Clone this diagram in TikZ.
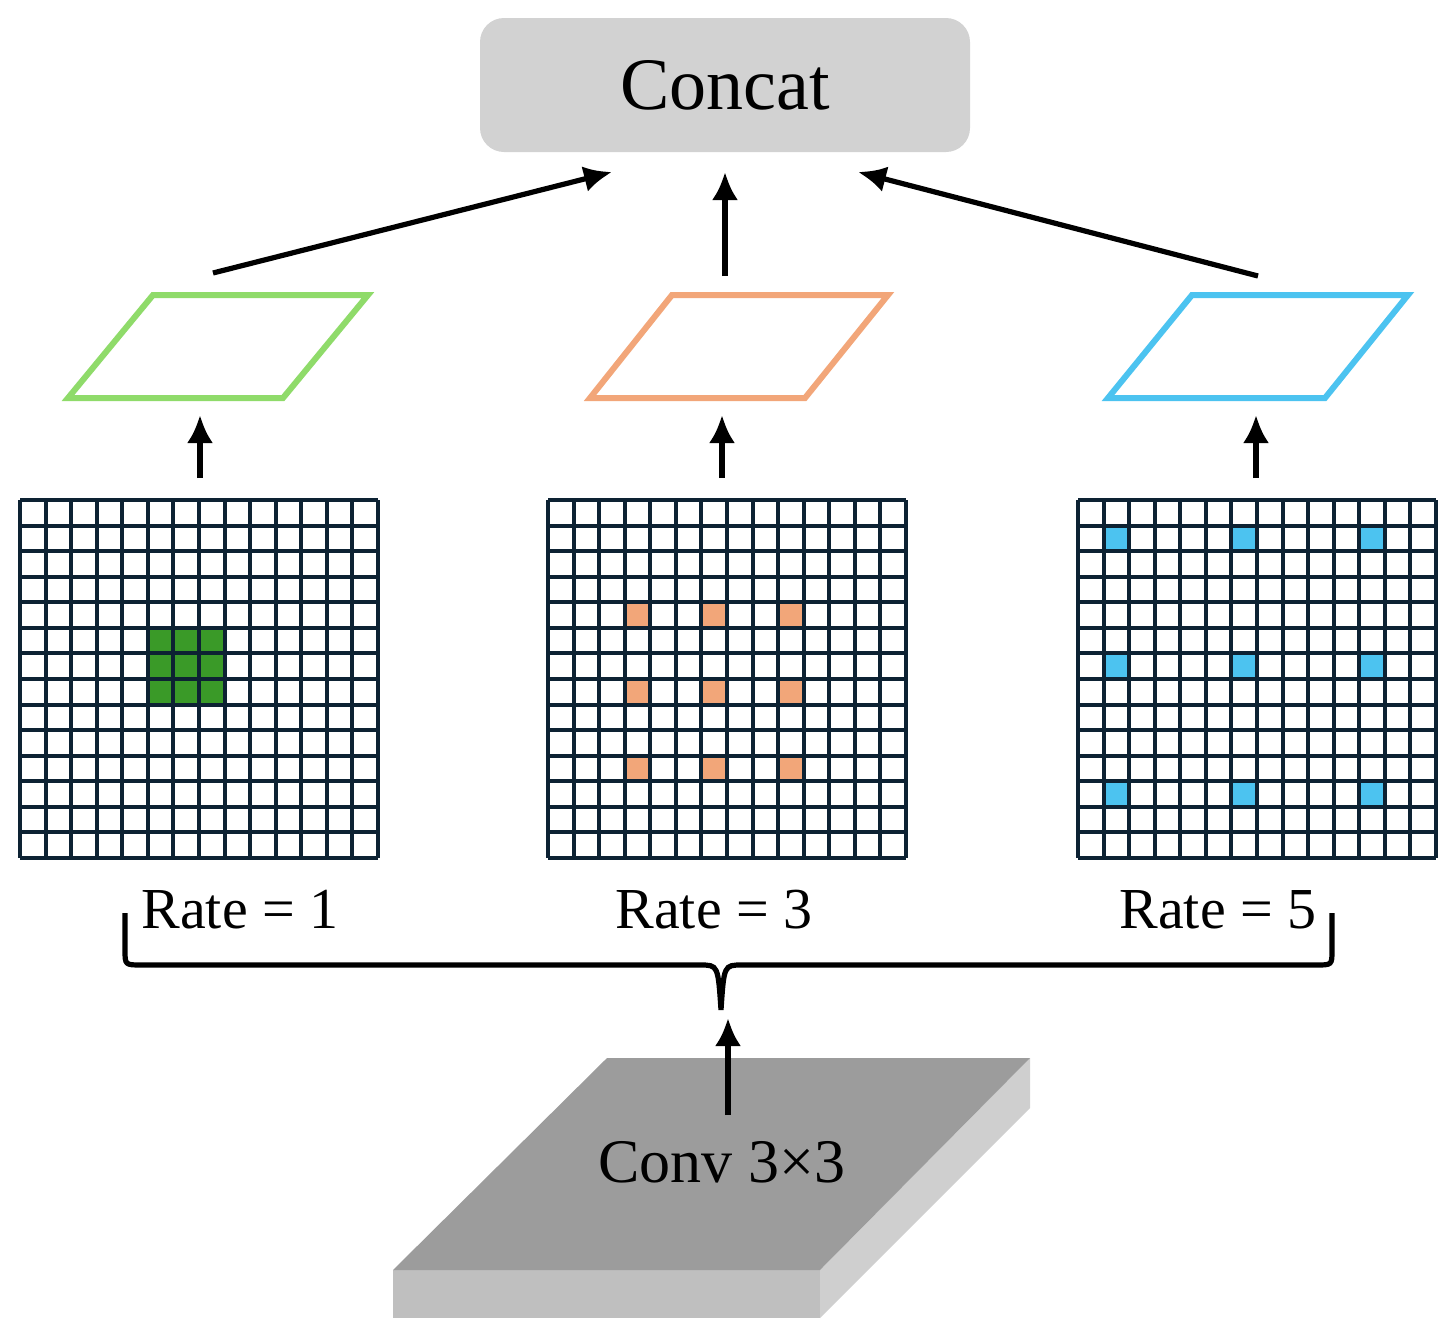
\documentclass[tikz,border=0pt]{standalone}
\usepackage{fontspec}
\setmainfont{Liberation Serif}
\begin{document}
\begin{tikzpicture}[x=0.5pt,y=-0.5pt,
  arr/.style={line width=2.6pt,-{Latex[length=14pt,width=13pt]}},
  gridl/.style={line width=2pt,draw=gridc},
  para/.style={line width=3pt,fill=white},
  lab/.style={font=\fontsize{29}{30}\selectfont,inner sep=0pt}]
\usetikzlibrary{arrows.meta}
\definecolor{gridc}{HTML}{0D2233}
\definecolor{cgreen}{HTML}{3A9A28}
\definecolor{lgreen}{HTML}{8FDB6A}
\definecolor{corange}{HTML}{F2A679}
\definecolor{cblue}{HTML}{4CC3F0}
\useasboundingbox (0,0) rectangle (1456,1339);
% Concat
\node[fill=gray!35,rounded corners=12pt,minimum width=245pt,minimum height=67pt,inner sep=0pt,font=\fontsize{37}{38}\selectfont] (concat) at (725,85) {Concat};
% parallelograms
\draw[para,draw=lgreen] (68,398)--(283,398)--(368,295)--(153,295)--cycle;
\draw[para,draw=corange] (590,398)--(805,398)--(888,295)--(672,295)--cycle;
\draw[para,draw=cblue] (1108,398)--(1325,398)--(1408,295)--(1192,295)--cycle;
\coordinate (p1) at (213,273); \coordinate (p2) at (725,276); \coordinate (p3) at (1258,276);
\coordinate (c1) at (612,172); \coordinate (c2) at (725,172); \coordinate (c3) at (858,172);
\draw[arr] (p1)--(c1); \draw[arr] (p2)--(c2); \draw[arr] (p3)--(c3);
% grids
\def\cs{25.57}
\foreach \gx/\col/\name in {20/cgreen/g1,548/corange/g2,1078/cblue/g3}{
  \coordinate (\name) at (\gx,500);
}
% fills
\foreach \i in {5,6,7}{\foreach \j in {5,6,7}{\fill[cgreen] (20+\i*\cs,500+\j*\cs) rectangle ++(\cs,\cs);}}
\foreach \i in {3,6,9}{\foreach \j in {4,7,10}{\fill[corange] (548+\i*\cs,500+\j*\cs) rectangle ++(\cs,\cs);}}
\foreach \i in {1,6,11}{\foreach \j in {1,6,11}{\fill[cblue] (1078+\i*\cs,500+\j*\cs) rectangle ++(\cs,\cs);}}
\foreach \gx in {20,548,1078}{
  \foreach \k in {0,...,14}{
    \draw[gridl] (\gx+\k*\cs,500)--(\gx+\k*\cs,858);
    \draw[gridl] (\gx,500+\k*\cs)--(\gx+358,500+\k*\cs);
  }
}
\coordinate (a1s) at (200,478); \coordinate (a1e) at (200,415);
\coordinate (a2s) at (722,478); \coordinate (a2e) at (722,415);
\coordinate (a3s) at (1256,478); \coordinate (a3e) at (1256,415);
\draw[arr] (a1s)--(a1e); \draw[arr] (a2s)--(a2e); \draw[arr] (a3s)--(a3e);
% labels
\node[lab] (r1) at (240,910) {Rate = 1};
\node[lab] (r2) at (714,910) {Rate = 3};
\node[lab] (r3) at (1218,910) {Rate = 5};
% brace
\draw[line width=2.6pt] (125,913)--(125,950) to[out=90,in=180,looseness=0] (125,950) .. controls (125,965) .. (142,965) -- (700,965) .. controls (718,965) .. (721,1010) .. controls (724,965) .. (742,965) -- (1316,965) .. controls (1332,965) .. (1332,950) -- (1332,913);
% slab
\fill[gray!50] (393,1270)--(820,1270)--(820,1318)--(393,1318)--cycle;
\fill[gray!38] (820,1270)--(1030,1058)--(1030,1108)--(820,1318)--cycle;
\fill[gray!78] (393,1270)--(820,1270)--(1030,1058)--(607,1058)--cycle;
\node[lab,font=\fontsize{31}{32}\selectfont] (conv) at (722,1162) {Conv 3×3};
\coordinate (cs) at (728,1115); \coordinate (ce) at (728,1018);
\draw[arr] (cs)--(ce);
\end{tikzpicture}
\end{document}
